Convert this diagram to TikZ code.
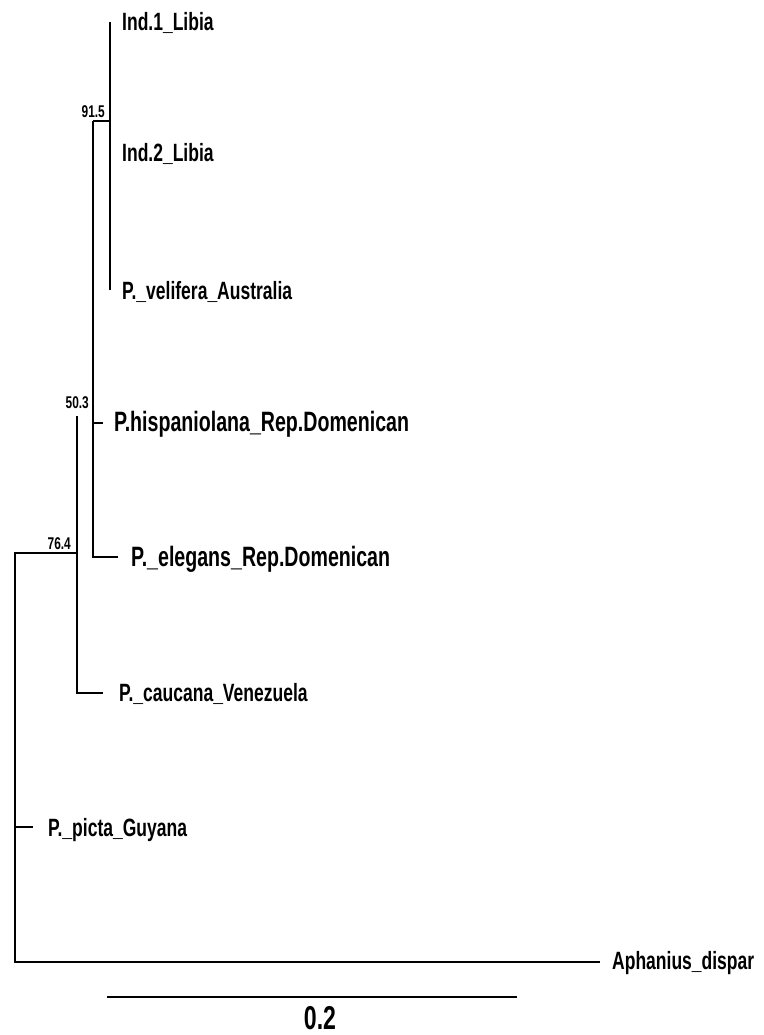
\documentclass[tikz,border=0pt]{standalone}
\usepackage{fontspec}
\newfontfamily\taxonfont{Liberation Sans}[FakeStretch=0.70]
\usetikzlibrary{positioning}

\begin{document}
\begin{tikzpicture}[x=1pt,y=-1pt,line width=2.4pt,
  taxon/.style={anchor=base west,inner sep=0pt,font=\taxonfont\bfseries\fontsize{25}{29}\selectfont},
  bigtaxon/.style={taxon,font=\taxonfont\bfseries\fontsize{28}{32}\selectfont},
  support/.style={anchor=base east,inner sep=0pt,font=\taxonfont\bfseries\fontsize{17}{20}\selectfont}]
  \useasboundingbox (0,0) rectangle (763,1035);

  % inner nodes
  \coordinate (rtop) at (15,553);
  \coordinate (rbot) at (15,962);
  \coordinate (n764) at (77,553);
  \coordinate (c1) at (77,416);
  \coordinate (c2) at (77,693);
  \coordinate (m1) at (93,121);
  \coordinate (m2) at (93,557);
  \coordinate (m3) at (93,423);
  \coordinate (n915) at (110,121);
  \coordinate (i1) at (110,22);
  \coordinate (i3) at (110,290);
  \coordinate (rpic) at (15,827);

  % tips
  \coordinate (hisp) at (103,423);
  \coordinate (eleg) at (118,557);
  \coordinate (cauc) at (103,693);
  \coordinate (pict) at (33,827);
  \coordinate (apha) at (600,962);

  % labels
  \node[taxon] (ind1) at (121,31) {Ind.1\_Libia};
  \node[taxon] (ind2) at (121,162) {Ind.2\_Libia};
  \node[taxon] (veli) at (121,299) {P.\_velifera\_Australia};
  \node[bigtaxon] (hispl) at (113,431) {P.hispaniolana\_Rep.Domenican};
  \node[bigtaxon] (elegl) at (130,566) {P.\_elegans\_Rep.Domenican};
  \node[taxon] (caucl) at (118,701) {P.\_caucana\_Venezuela};
  \node[taxon] (pictl) at (47,836) {P.\_picta\_Guyana};
  \node[taxon] (aphal) at (611,969) {Aphanius\_dispar};

  \node[support] (s915) at (106,118) {91.5};
  \node[support] (s503) at (90,408) {50.3};
  \node[support] (s764) at (72,549) {76.4};

  % branches
  \draw (n764) -- (rtop) -- (rbot) -- (apha);
  \draw (rpic) -- (pict);
  \draw (c1) -- (c2) -- (cauc);
  \draw (m1) -- (m2) -- (eleg);
  \draw (m3) -- (hisp);
  \draw (m1) -- (n915);
  \draw (i1) -- (i3);

  % scale bar
  \coordinate (sb1) at (107,997);
  \coordinate (sb2) at (517,997);
  \draw[line width=2.8pt] (sb1) -- (sb2);
  \node[anchor=base,inner sep=0pt,font=\taxonfont\bfseries\fontsize{33}{36}\selectfont] (sbl) at (320,1029) {0.2};
\end{tikzpicture}
\end{document}
